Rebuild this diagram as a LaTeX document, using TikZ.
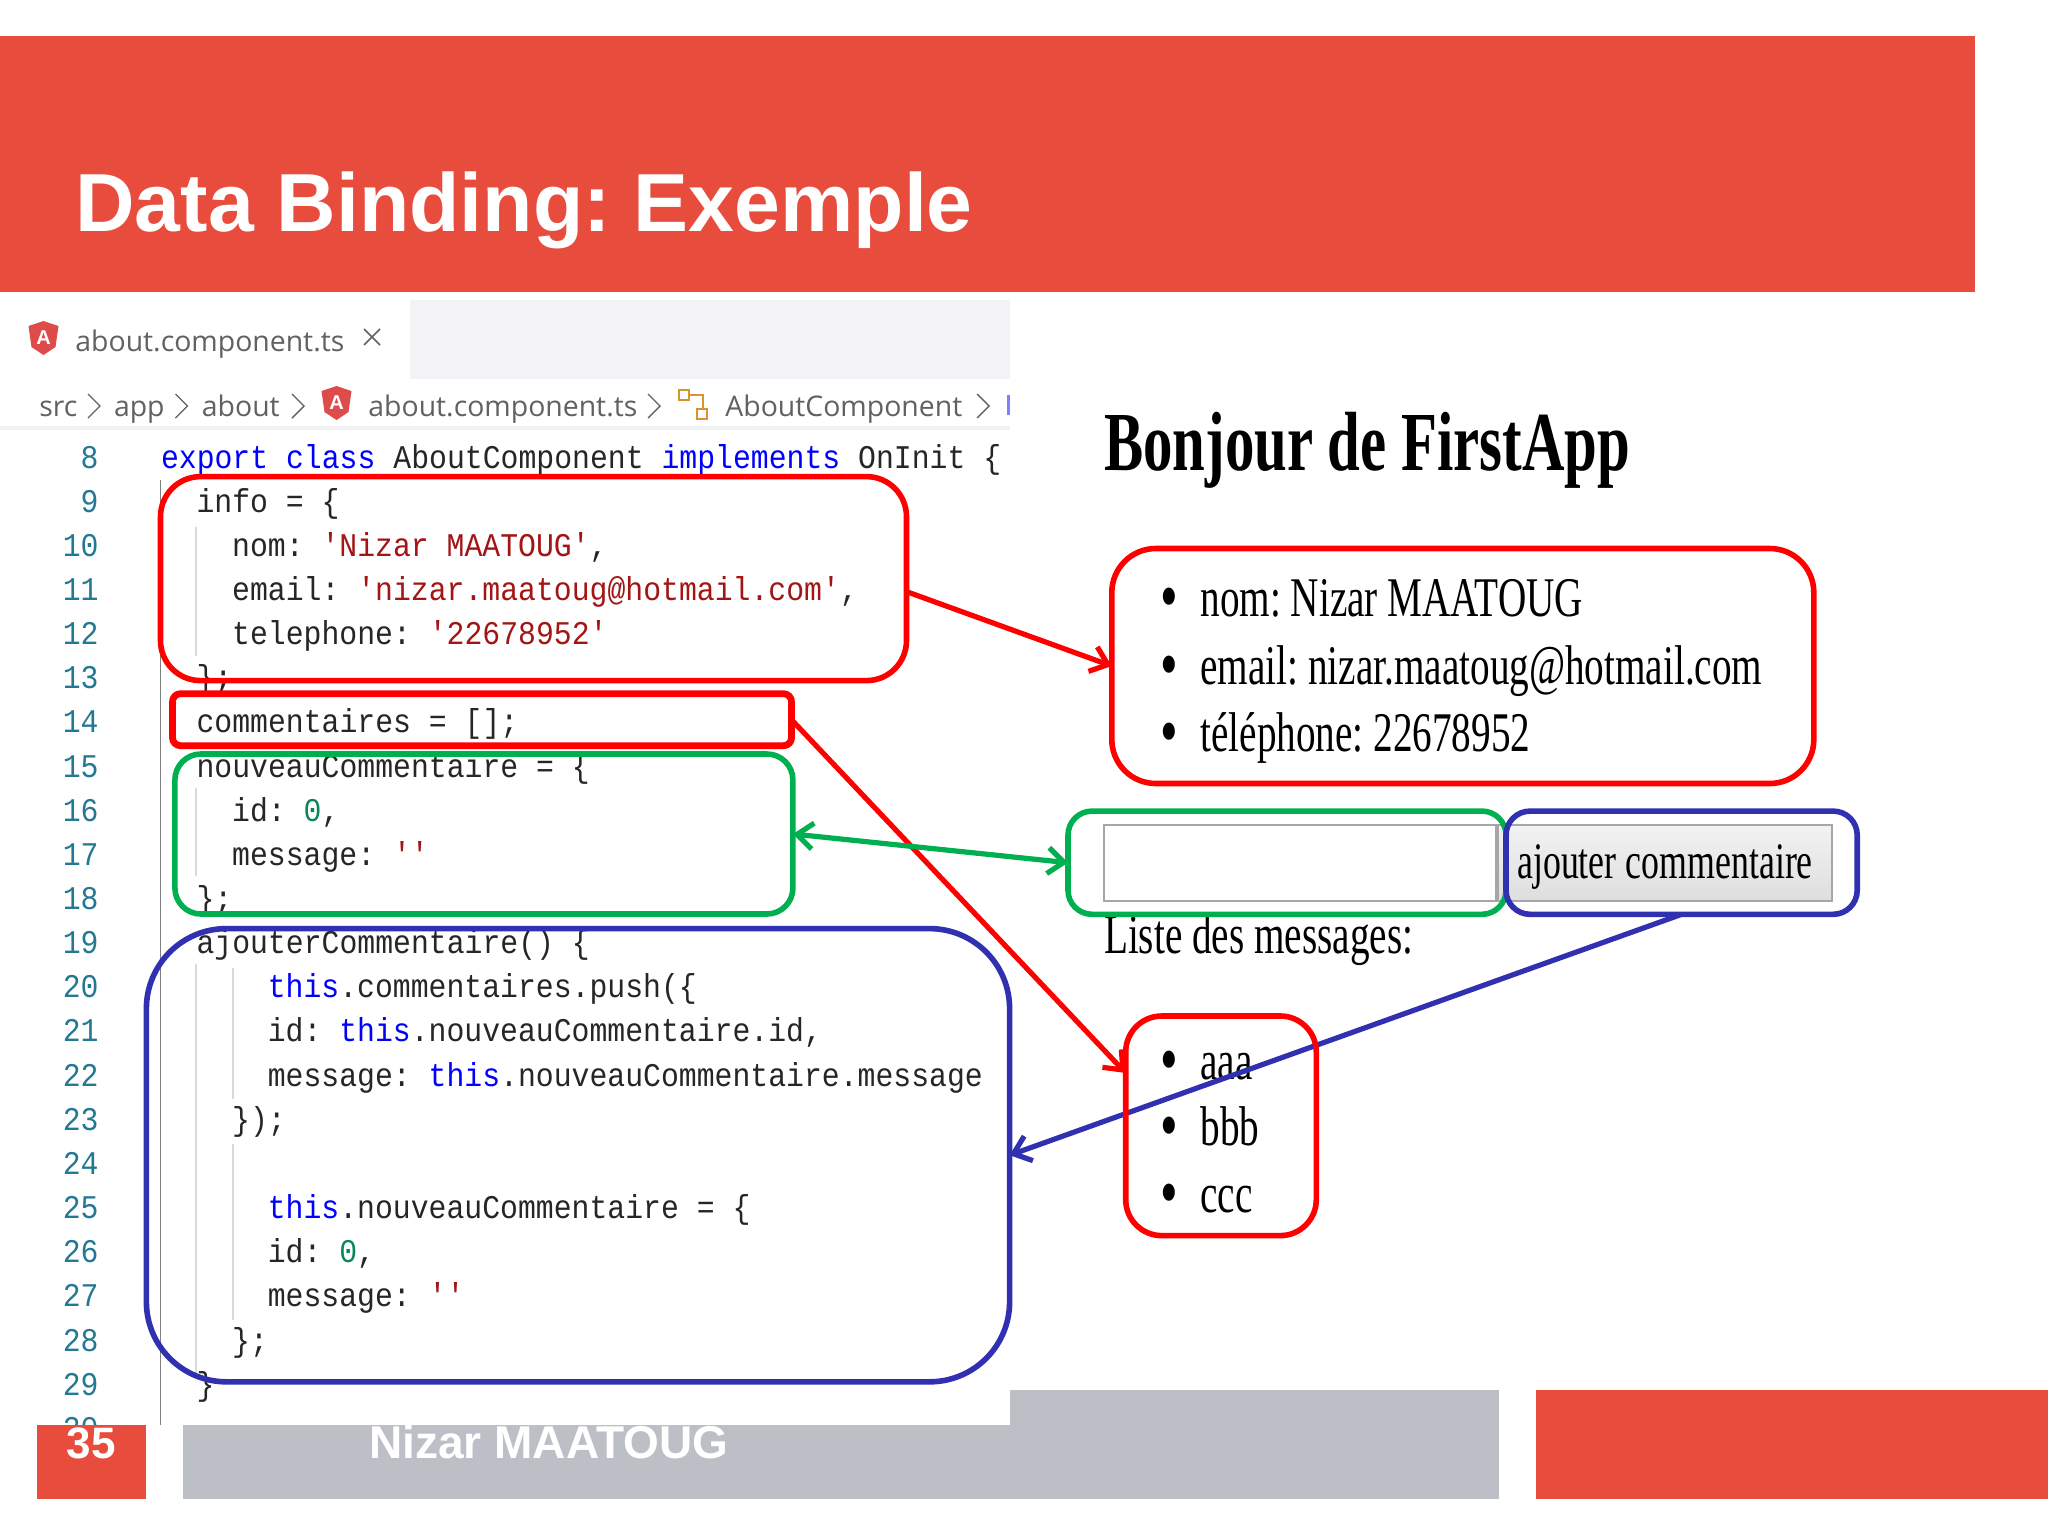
\documentclass[tikz,border=0pt]{standalone}
\usepackage{fontspec}
\usetikzlibrary{arrows.meta}
\setmainfont{Liberation Sans}
\newfontfamily\codefont[FakeStretch=.9]{Liberation Mono}
\newfontfamily\pagefont[FakeStretch=.7]{Liberation Serif}
\newfontfamily\uifont{Open Sans}
\definecolor{slidered}{HTML}{E84C3D}
\definecolor{slidegray}{HTML}{BCC0C6}
\definecolor{tabgray}{HTML}{F3F3F5}
\definecolor{lineno}{HTML}{237893}
\definecolor{kwdblue}{HTML}{0000FF}
\definecolor{strred}{HTML}{A31515}
\definecolor{numgreen}{HTML}{098658}
\definecolor{markred}{HTML}{FF0000}
\definecolor{markgreen}{HTML}{00B050}
\definecolor{markblue}{HTML}{3030B0}
\definecolor{uigray}{HTML}{616161}
\definecolor{shieldred}{HTML}{DD4B4B}
\definecolor{classorange}{HTML}{D9942F}
\newcommand{\kwd}[1]{\textcolor{kwdblue}{#1}}
\newcommand{\strg}[1]{\textcolor{strred}{#1}}
\newcommand{\numb}[1]{\textcolor{numgreen}{#1}}
\newcommand{\ngshield}[3]{%
  \fill[shieldred] (#2-15,#3-12) -- (#2,#3-17) -- (#2+15,#3-12) -- (#2+12,#3+9) -- (#2,#3+17) -- (#2-12,#3+9) -- cycle;
  \node[text=white,font=\fontsize{10}{10}\selectfont\bfseries,inner sep=0pt] (#1) at (#2,#3) {A};}

\begin{document}
\frenchspacing
\begin{tikzpicture}[x=.5pt,y=-.5pt,
    codeline/.style={anchor=base west,inner sep=0pt,text=black!85,font=\codefont\fontsize{16.55}{18}\selectfont},
    numline/.style={anchor=base east,inner sep=0pt,text=lineno,font=\codefont\fontsize{16.55}{18}\selectfont},
    uitext/.style={anchor=base west,inner sep=0pt,text=uigray,font=\uifont\fontsize{14.2}{16}\selectfont},
    pagetext/.style={anchor=base west,inner sep=0pt,text=black,font=\pagefont\fontsize{28}{30}\selectfont},
    pagebullet/.style={pagetext,font=\pagefont\fontsize{36}{38}\selectfont},
    guide/.style={black!15,line width=.7pt},
    markbox/.style={draw,inner sep=0pt,outer sep=0pt,line width=2.8pt},
    redbox/.style={markbox,draw=markred},
    greenbox/.style={markbox,draw=markgreen},
    bluebox/.style={markbox,draw=markblue},
    link/.style={line width=2.6pt,>={Straight Barb[length=8pt,width=13pt]}}]
  \useasboundingbox (0,0) rectangle (2048,1536);

  % Header and footer
  \fill[slidered] (0,36.5) rectangle (1975,292);
  \node[anchor=base west,inner sep=0pt,text=white,font=\fontsize{41.2}{44}\selectfont\bfseries] (title) at (75,231) {Data Binding: Exemple};
  \fill[slidegray] (183,1390) rectangle (1499,1499);
  \fill[slidered] (1536,1390) rectangle (2048,1499);

  % Editor tabs
  \fill[white] (0,292) rectangle (1010,1425);
  \fill[tabgray] (410,300) rectangle (1010,379);
  \ngshield{tabicon}{43.5}{338}
  \node[uitext] (tabname) at (75,351) {about.component.ts};
  \draw[uigray,line width=.8pt] (364,329) -- (380,345) (380,329) -- (364,345);

  % Breadcrumb
  \node[uitext] (crumbsrc) at (39,416.6) {src};
  \node[uitext] (crumbapp) at (113.6,416.6) {app};
  \node[uitext] (crumbabout) at (201.5,416.6) {about};
  \ngshield{crumbicon}{336.5}{403}
  \node[uitext] (crumbfile) at (368,416.6) {about.component.ts};
  \node[uitext] (crumbclass) at (725,416.6) {AboutComponent};
  \foreach \cx in {94,181.5,298,654,983}
    \draw[uigray,line width=.7pt] (\cx-6,394) -- (\cx+6,406) -- (\cx-6,418);
  \draw[classorange,line width=1pt] (679,390) rectangle (689,400) (697,409) rectangle (707,419)
    (689,395) -- (703,395) -- (703,409);
  \draw[blue!50,line width=1.5pt] (1008,395) -- (1008,415);
  \fill[black!5] (0,426) rectangle (1010,430);

  % Indent guides
  \draw[black!50,line width=.6pt] (160.6,480) -- (160.6,1425);
  \draw[guide] (196,527) -- (196,656);
  \draw[guide] (196,788) -- (196,876);
  \draw[guide] (196,964) -- (196,1373);
  \draw[guide] (233,968) -- (233,1099);
  \draw[guide] (233,1144) -- (233,1320);

  % Line numbers
  \foreach \n in {8,...,30}
    \node[numline] (num\n) at (99,{468+(\n-8)*44.15}) {\n};

  % Code
  \foreach \n/\col/\txt in {
      8/0/{\kwd{export class} AboutComponent \kwd{implements} OnInit \{},
      9/2/{info = \{},
      10/4/{nom: \strg{'Nizar MAATOUG'},},
      11/4/{email: \strg{'nizar.maatoug@hotmail.com'},},
      12/4/{telephone: \strg{'22678952'}},
      13/2/{\};},
      14/2/{commentaires = [];},
      15/2/{nouveauCommentaire = \{},
      16/4/{id: \numb{0},},
      17/4/{message: \strg{''}},
      18/2/{\};},
      19/2/{ajouterCommentaire() \{},
      20/6/{\kwd{this}.commentaires.push(\{},
      21/6/{id: \kwd{this}.nouveauCommentaire.id,},
      22/6/{message: \kwd{this}.nouveauCommentaire.message},
      23/4/{\});},
      25/6/{\kwd{this}.nouveauCommentaire = \{},
      26/6/{id: \numb{0},},
      27/6/{message: \strg{''}},
      28/4/{\};},
      29/2/{\}}}
    \node[codeline] (line\n) at ({160.6+\col*17.8},{468+(\n-8)*44.15}) {\txt};

  % Footer on top of the editor
  \fill[slidered] (36.5,1425) rectangle (146,1499);
  \node[anchor=base,inner sep=0pt,text=white,font=\fontsize{22}{24}\selectfont\bfseries] (pagenum) at (91.4,1458) {35};
  \node[anchor=base west,inner sep=0pt,text=white,font=\fontsize{23}{25}\selectfont\bfseries] (author) at (369,1458) {Nizar MAATOUG};

  % Rendered page
  \node[pagetext,font=\pagefont\fontsize{42}{46}\selectfont\bfseries] (pagetitle) at (1103.7,470) {Bonjour de FirstApp};
  \foreach \y/\name/\txt in {616.5/nom/{nom: Nizar MAATOUG},684/email/{email: nizar.maatoug@hotmail.com},751/tel/{téléphone: 22678952}} {
    \node[pagebullet] (bul\name) at (1160,\y+4) {\textbullet};
    \node[pagetext] (item\name) at (1200,\y) {\txt};
  }
  \node[draw=black!35,line width=1pt,fill=white,inner sep=0pt,minimum width=196pt,minimum height=37.9pt] (msgfield) at (1299.6,863.3) {};
  \node[draw=black!35,line width=1pt,top color=black!5,bottom color=black!13,inner sep=0pt,minimum width=167pt,minimum height=37.9pt,text height=21pt,text depth=5.5pt,font=\pagefont\fontsize{25.6}{28}\selectfont] (addbutton) at (1665,863.3) {ajouter commentaire};
  \node[pagetext] (listtitle) at (1103.7,953.5) {Liste des messages:};
  \foreach \y/\txt in {1079/aaa,1145/bbb,1212/ccc} {
    \node[pagebullet] (bul\txt) at (1160,\y+4) {\textbullet};
    \node[pagetext] (item\txt) at (1200,\y) {\txt};
  }

  % Marks on the code
  \node[redbox,rounded corners=20pt,minimum width=373pt,minimum height=102pt] (infobox) at (533.5,578.6) {};
  \node[redbox,line width=3.4pt,rounded corners=4pt,minimum width=309.5pt,minimum height=26pt] (commbox) at (482,719.7) {};
  \node[greenbox,rounded corners=13pt,minimum width=309pt,minimum height=80pt] (newbox) at (483.9,834) {};
  \node[bluebox,rounded corners=40pt,minimum width=431.6pt,minimum height=226.6pt] (methodbox) at (578,1155.2) {};

  % Marks on the page
  \node[redbox,rounded corners=22pt,minimum width=351pt,minimum height=117.5pt] (listbox) at (1462.8,666) {};
  \node[greenbox,rounded corners=12pt,minimum width=219pt,minimum height=51.6pt] (inputbox) at (1287,862.7) {};
  \node[bluebox,rounded corners=12pt,minimum width=175.6pt,minimum height=51.6pt] (btnbox) at (1681.6,862.7) {};

  % Arrows
  \draw[link,->,markblue] (btnbox.south) -- (methodbox.east);
  \node[redbox,rounded corners=18pt,minimum width=95.3pt,minimum height=109.8pt] (msgbox) at (1221,1125.8) {};
  \draw[link,->,markred] (infobox.-2) -- (listbox.west);
  \draw[link,->,markred] (commbox.east) -- (msgbox.151);
  \draw[link,<->,markgreen] (newbox.east) -- (inputbox.west);
\end{tikzpicture}
\end{document}
